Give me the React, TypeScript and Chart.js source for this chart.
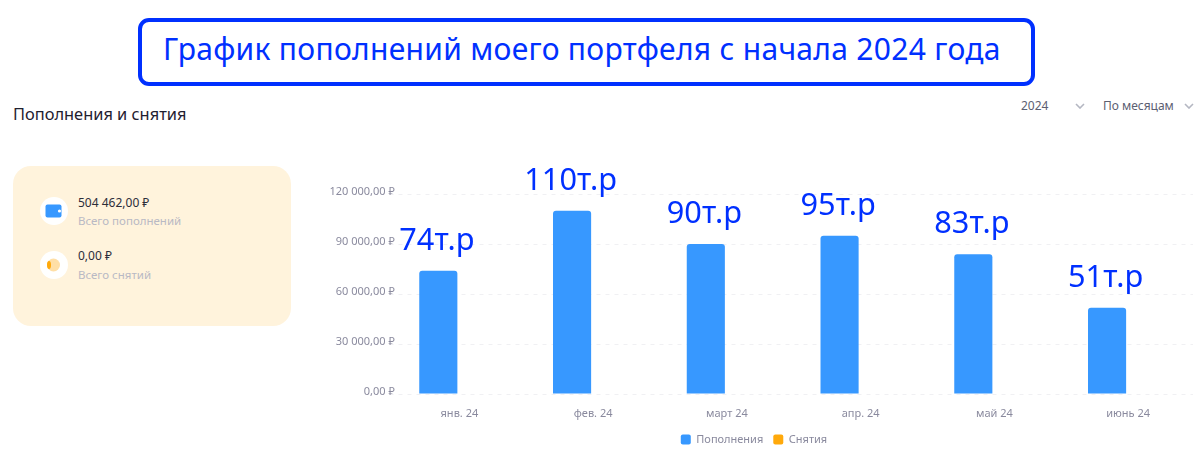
import React, { useEffect, useRef } from "react";
import { Chart, registerables } from "chart.js";

Chart.register(...registerables);

const categories = ["янв. 24", "фев. 24", "март 24", "апр. 24", "май 24", "июнь 24"];
const deposits = [74000, 110000, 90000, 95000, 83800, 51700];
const withdrawals = [0, 0, 0, 0, 0, 0];
const calloutLabels = ["74т.р", "110т.р", "90т.р", "95т.р", "83т.р", "51т.р"];
const yTicks = [0, 30000, 60000, 90000, 120000];
const FONT = '"Noto Sans", "Open Sans", sans-serif';
const BLUE = "#0030ff";

const fmt = (v: number) =>
  (v === 0 ? "0" : `${Math.round(v / 1000)} 000`) + ",00 ₽";

const calloutPlugin = {
  id: "callouts",
  afterDatasetsDraw(chart: any) {
    const { ctx } = chart;
    const meta = chart.getDatasetMeta(0);
    ctx.save();
    ctx.font = `30.7px ${FONT}`;
    ctx.fillStyle = BLUE;
    ctx.textAlign = "center";
    ctx.textBaseline = "alphabetic";
    meta.data.forEach((bar: any, i: number) => {
      ctx.fillText(calloutLabels[i], bar.x - 1.5, bar.y - 21);
    });
    ctx.restore();
  },
};

export default function App() {
  const ref = useRef<HTMLCanvasElement>(null);
  useEffect(() => {
    const chart = new Chart(ref.current!, {
      type: "bar",
      data: {
        labels: categories,
        datasets: [
          { label: "Пополнения", data: deposits, backgroundColor: "#3798ff", borderRadius: { topLeft: 3, topRight: 3 }, categoryPercentage: 0.57, barPercentage: 1 },
          { label: "Снятия", data: withdrawals, backgroundColor: "#ffa90b", categoryPercentage: 0.57, barPercentage: 1 },
        ],
      },
      options: {
        animation: false,
        responsive: false,
        layout: { padding: { top: 34, bottom: 0, left: 0, right: 0 } },
        plugins: {
          title: { display: false },
          tooltip: { enabled: false },
          legend: {
            position: "bottom",
            labels: {
              useBorderRadius: true,
              borderRadius: 2,
              boxWidth: 10,
              boxHeight: 10,
              padding: 10,
              color: "#8a8a9e",
              font: { family: FONT, size: 11 },
            },
          },
        },
        scales: {
          x: {
            afterFit(s: any) { s.height = 30; },
            grid: { display: false },
            border: { display: false },
            ticks: { color: "#8a8a9e", font: { family: FONT, size: 11 }, padding: 5.5, labelOffset: 2, maxRotation: 0 },
          },
          y: {
            min: 0,
            max: 120000,
            afterFit(s: any) { s.width = 75.5; },
            afterBuildTicks(s: any) { s.ticks = yTicks.map((value) => ({ value })); },
            grid: { color: "#f0f0f3", tickLength: 0 },
            border: { display: false, dash: [4, 5], dashOffset: 1.5 },
            ticks: {
              color: "#8a8a9e",
              font: { family: FONT, size: 11, lineHeight: "4px" },
              mirror: true,
              crossAlign: "far",
              padding: -61,
              callback: (v: any) => [fmt(Number(v)), ""],
            },
          },
        },
      },
      plugins: [calloutPlugin],
    } as any);
    return () => chart.destroy();
  }, []);

  const abs = (l: number, t: number, extra: React.CSSProperties = {}): React.CSSProperties => ({
    position: "absolute", left: l, top: t, whiteSpace: "nowrap", ...extra,
  });
  const chevron = (l: number) => (
    <svg style={abs(l, 103)} width="10" height="6" viewBox="0 0 10 6">
      <path d="M1 1 L5 5 L9 1" fill="none" stroke="#b4b7c2" strokeWidth="1.6" />
    </svg>
  );

  return (
    <div style={{ position: "fixed", left: 0, top: 0, width: 1200, height: 463, background: "#fff", overflow: "hidden", fontFamily: FONT }}>
      <div style={abs(138, 18, { width: 889, height: 60, border: `4px solid ${BLUE}`, borderRadius: 11, boxSizing: "content-box" })} />
      <div style={abs(163, 26, { fontSize: 30, letterSpacing: 0.3, lineHeight: "46px", color: BLUE })}>График пополнений моего портфеля с начала 2024 года</div>
      <div style={abs(13, 104, { fontSize: 16.4, lineHeight: "20px", color: "#1f2030" })}>Пополнения и снятия</div>
      <div style={abs(1021, 98, { fontSize: 12, lineHeight: "16px", color: "#5c6072" })}>2024</div>
      {chevron(1075)}
      <div style={abs(1103, 98, { fontSize: 12, lineHeight: "16px", color: "#5c6072" })}>По месяцам</div>
      {chevron(1184)}

      <div style={abs(13, 166, { width: 278, height: 160, background: "#fff3dc", borderRadius: 18 })} />
      <div style={abs(40, 197, { width: 28, height: 28, borderRadius: 14, background: "#fff" })} />
      <svg style={abs(45, 204)} width="18" height="14" viewBox="0 0 18 14">
        <rect x="0.5" y="0.5" width="16" height="13" rx="2" fill="#3798ff" />
        <circle cx="14.5" cy="7" r="1.6" fill="#fff" />
      </svg>
      <div style={abs(78, 195, { fontSize: 12, lineHeight: "16px", color: "#2c2d3a" })}>504 462,00 ₽</div>
      <div style={abs(78, 213, { fontSize: 11.5, lineHeight: "16px", color: "#b9b9c4" })}>Всего пополнений</div>
      <div style={abs(40, 251, { width: 28, height: 28, borderRadius: 14, background: "#fff" })} />
      <svg style={abs(46, 257)} width="16" height="16" viewBox="0 0 16 16">
        <circle cx="7.5" cy="8" r="6.5" fill="#ffdfa6" />
        <ellipse cx="3" cy="8" rx="2" ry="4" fill="#ffa90b" />
      </svg>
      <div style={abs(78, 248, { fontSize: 12, lineHeight: "16px", color: "#2c2d3a" })}>0,00 ₽</div>
      <div style={abs(78, 267, { fontSize: 11.5, lineHeight: "16px", color: "#b9b9c4" })}>Всего снятий</div>

      <canvas ref={ref} width={878} height={295} style={{ position: "absolute", left: 315, top: 160, width: 878, height: 295 }} />
    </div>
  );
}
